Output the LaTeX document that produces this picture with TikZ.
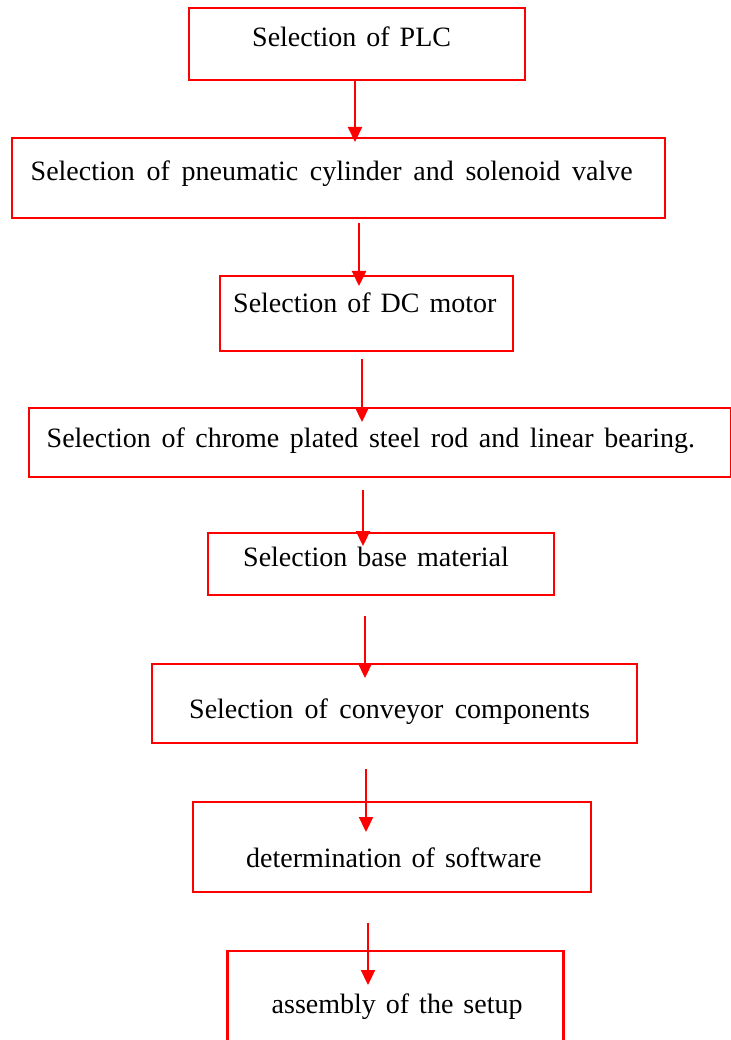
\documentclass[tikz,border=0pt]{standalone}
\usepackage{fontspec}
\setmainfont{Liberation Serif}
\usetikzlibrary{arrows.meta}
\newcommand\flowfont{\fontsize{28pt}{34pt}\selectfont\spaceskip=10pt\relax}
\begin{document}
\begin{tikzpicture}[x=1pt,y=-1pt,
  box/.style={draw=red, line width=2.2pt, rectangle, inner sep=0pt},
  txt/.style={inner sep=0pt, anchor=base west, text=black, font=\flowfont},
  flow/.style={draw=red, line width=2.2pt, -{Triangle[width=14pt,length=15pt]}}]
\useasboundingbox (0,0) rectangle (730,1040);
% boxes: center, width, height
\node[box, minimum width=336pt, minimum height=72pt] (b1) at (357,44) {};
\node[box, minimum width=653pt, minimum height=80pt] (b2) at (338.5,178) {};
\node[box, minimum width=293pt, minimum height=75pt] (b3) at (366.5,313.5) {};
\node[box, minimum width=702pt, minimum height=69pt] (b4) at (380,442.5) {};
\node[box, minimum width=346pt, minimum height=62pt] (b5) at (381,564) {};
\node[box, minimum width=485pt, minimum height=79pt] (b6) at (394.5,703.5) {};
\node[box, minimum width=398pt, minimum height=90pt] (b7) at (392,847) {};
\node[box, minimum width=336pt, minimum height=120pt] (b8) at (395.5,1011) {};
% texts
\node[txt] (t1) at (252,47) {Selection of PLC};
\node[txt] (t2) at (30.5,180.7) {\spaceskip=11.7pt\relax Selection of pneumatic cylinder and solenoid valve};
\node[txt] (t3) at (233,312.7) {Selection of DC motor};
\node[txt] (t4) at (46.5,447) {\spaceskip=10.6pt\relax Selection of chrome plated steel rod and linear bearing.};
\node[txt] (t5) at (243,566.7) {Selection base material};
\node[txt] (t6) at (189,718) {\spaceskip=11.3pt\relax Selection of conveyor components};
\node[txt] (t7) at (246,867) {determination of software};
\node[txt] (t8) at (271.5,1013) {assembly of the setup};
% arrow end points
\coordinate (a1s) at (355,80);  \coordinate (a1e) at (355,142);
\coordinate (a2s) at (359,223); \coordinate (a2e) at (359,286);
\coordinate (a3s) at (362,359); \coordinate (a3e) at (362,422);
\coordinate (a4s) at (363,490); \coordinate (a4e) at (363,546);
\coordinate (a5s) at (365,616); \coordinate (a5e) at (365,678);
\coordinate (a6s) at (366,769); \coordinate (a6e) at (366,832);
\coordinate (a7s) at (368,923); \coordinate (a7e) at (368,985);
\foreach \i in {1,...,7} {\draw[flow] (a\i s) -- (a\i e);}
\end{tikzpicture}
\end{document}
